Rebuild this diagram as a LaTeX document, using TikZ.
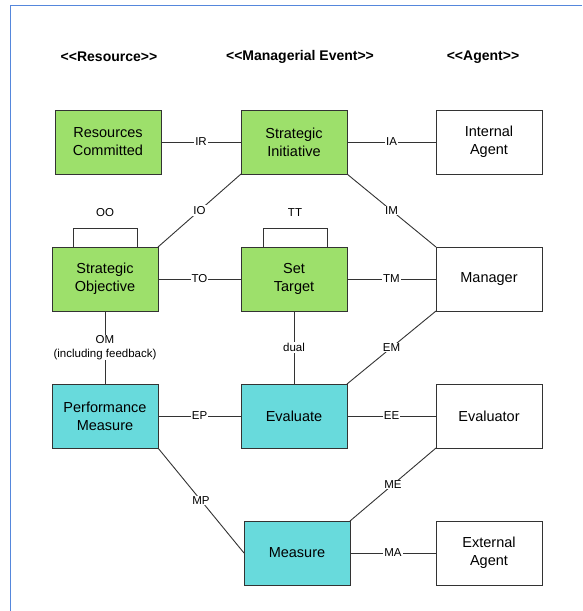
\documentclass[tikz,border=0pt]{standalone}
\usepackage{fontspec}
\setmainfont{Liberation Sans}
\usetikzlibrary{positioning}

\definecolor{resgreen}{RGB}{157,224,107}
\definecolor{evtcyan}{RGB}{104,218,220}
\definecolor{edgegray}{RGB}{51,51,51}
\definecolor{frameblue}{RGB}{85,135,220}

\newcommand{\stl}{<\kern0pt<}
\newcommand{\stg}{>\kern0pt>}

\begin{document}
\begin{tikzpicture}[
    x=1pt, y=-1pt,
    box/.style={draw=edgegray, line width=1pt, minimum width=106pt, minimum height=64pt,
        inner sep=2pt, outer sep=0pt, align=center, font=\fontsize{14.5}{18}\selectfont},
    res/.style={box, fill=resgreen},
    evt/.style={box, fill=evtcyan},
    agt/.style={box, fill=white},
    hdr/.style={font=\bfseries\fontsize{14}{16}\selectfont},
    lbl/.style={fill=white, inner sep=1pt, align=center, font=\fontsize{11.5}{13.5}\selectfont},
    link/.style={draw=edgegray, line width=0.9pt}
]
\useasboundingbox (0,0) rectangle (582,611);
\draw[frameblue, line width=1pt] (582,5) -- (10,5) -- (10,611);

% stereotypes
\node[hdr] (hres) at (109,57) {\stl Resource\stg};
\node[hdr] (hevt) at (300,57) {\stl Managerial Event\stg};
\node[hdr] (hagt) at (483,57) {\stl Agent\stg};

% resources, events, agents
\node[res] (rc)  at (108,142) {Resources\\Committed};
\node[res] (si)  at (294,142) {Strategic\\Initiative};
\node[agt] (ia)  at (489,142) {Internal\\Agent};
\node[res] (so)  at (105,279) {Strategic\\Objective};
\node[res] (st)  at (294,279) {Set\\Target};
\node[agt] (mgr) at (489,279) {Manager};
\node[evt] (pm)  at (105,416) {Performance\\Measure};
\node[evt] (ev)  at (294,416) {Evaluate};
\node[agt] (evr) at (489,416) {Evaluator};
\node[evt] (ms)  at (297,553) {Measure};
\node[agt] (ea)  at (489,553) {External\\Agent};

% associations
\draw[link] (rc) -- node[lbl]{IR} (si);
\draw[link] (si) -- node[lbl]{IA} (ia);
\draw[link] (si.south west) -- node[lbl]{IO} (so.north east);
\draw[link] (si.south east) -- node[lbl]{IM} (mgr.north west);
\draw[link] (so) -- node[lbl]{TO} (st);
\draw[link] (st) -- node[lbl]{TM} (mgr);
\draw[link] (so) -- node[lbl]{OM\\(including feedback)} (pm);
\draw[link] (st) -- node[lbl]{dual} (ev);
\draw[link] (mgr.south west) -- node[lbl]{EM} (ev.north east);
\draw[link] (pm) -- node[lbl]{EP} (ev);
\draw[link] (ev) -- node[lbl]{EE} (evr);
\draw[link] (pm.south east) -- node[lbl]{MP} (ms.west);
\draw[link] (evr.south west) -- node[lbl]{ME} (ms.north east);
\draw[link] (ms) -- node[lbl]{MA} (ea);

% self loops
\draw[link] ([xshift=21pt]so.north west) -- ++(0,-19)
    -| node[lbl, pos=0.25, above=10pt]{OO} ([xshift=-21pt]so.north east);
\draw[link] ([xshift=22pt]st.north west) -- ++(0,-19)
    -| node[lbl, pos=0.25, above=10pt]{TT} ([xshift=-20pt]st.north east);

\end{tikzpicture}
\end{document}
